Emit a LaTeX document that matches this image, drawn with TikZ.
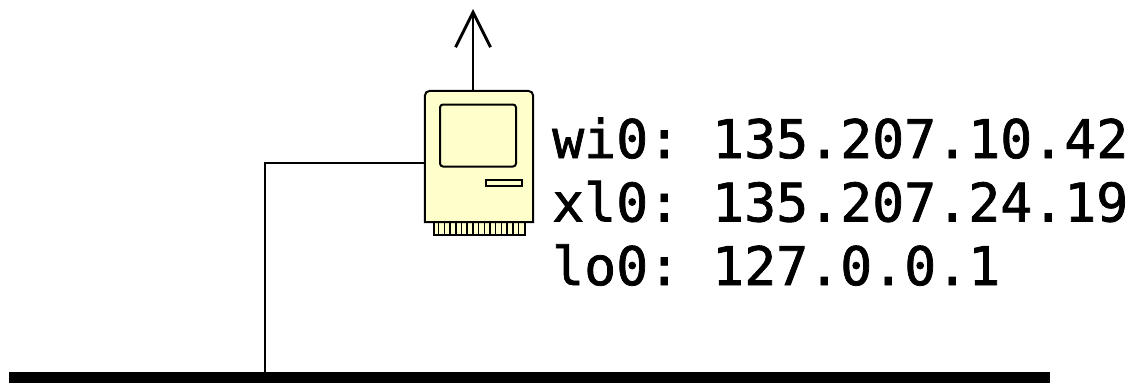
\documentclass[tikz,border=0pt]{standalone}
\usepackage{fontspec}
\setmonofont[FakeBold=1.4]{DejaVu Sans Mono}
\usepackage{tikz}
\usetikzlibrary{arrows.meta,calc}
\definecolor{macyellow}{HTML}{FFFFCC}
\tikzset{
    macpart/.style = {draw,fill=macyellow,line width=2pt,inner sep=0pt,rounded corners=3pt},
    wire/.style = {draw,line width=2.9pt},
    addr/.style = {anchor=base west,inner sep=0pt,font=\fontsize{53.16}{60}\selectfont\ttfamily},
    tick/.style = {draw,line width=1.5pt}
}
\begin{document}
\begin{tikzpicture}[x=1pt,y=-1pt]
        \useasboundingbox (0,0) rectangle (1131,383);
        \begin{scope}
            % feet first, the body sits over them
            \node [macpart,rounded corners=0pt,minimum width=91pt,minimum height=14pt] (feet) at (479.5,228) {};
            \foreach \x in {1,...,15} {
                \draw [tick] ($(feet.west)+(5.7*\x,-7)$) -- ($(feet.west)+(5.7*\x,7)$);
            }
            \node [inner sep=0pt,minimum width=108pt,minimum height=131pt] (mac) at (479,156.5) {};
            \draw [macpart,sharp corners] (mac.south west) [rounded corners=5pt] -- (mac.north west) -- (mac.north east) [sharp corners] -- (mac.south east) -- cycle;
            \node [macpart,minimum width=76pt,minimum height=62pt] (screen) at (478,135.5) {};
            \node [macpart,rounded corners=0pt,minimum width=36pt,minimum height=6pt] (slot) at (503.5,183) {};

            \node [fill,inner sep=0pt,minimum width=1041pt,minimum height=11pt] (bar) at (529.5,377.5) {};

            \coordinate (macport) at (mac.west |- 0,163);
            \coordinate (drop) at (265,372);
            \coordinate (up) at (473,9);
            \coordinate (macTop) at (473,91);

            \draw [wire] (macport) -| (drop);
            \draw [wire,-{Straight Barb[length=35pt,width=35pt,line width=2.9pt]}] (macTop) -- (up);

            \node [addr] (wi) at (552,158) {wi0: 135.207.10.42};
            \node [addr] (xl) at (552,221.5) {xl0: 135.207.24.19};
            \node [addr] (lo) at (552,285) {lo0: 127.0.0.1};
        \end{scope}
    \end{tikzpicture}
\end{document}
